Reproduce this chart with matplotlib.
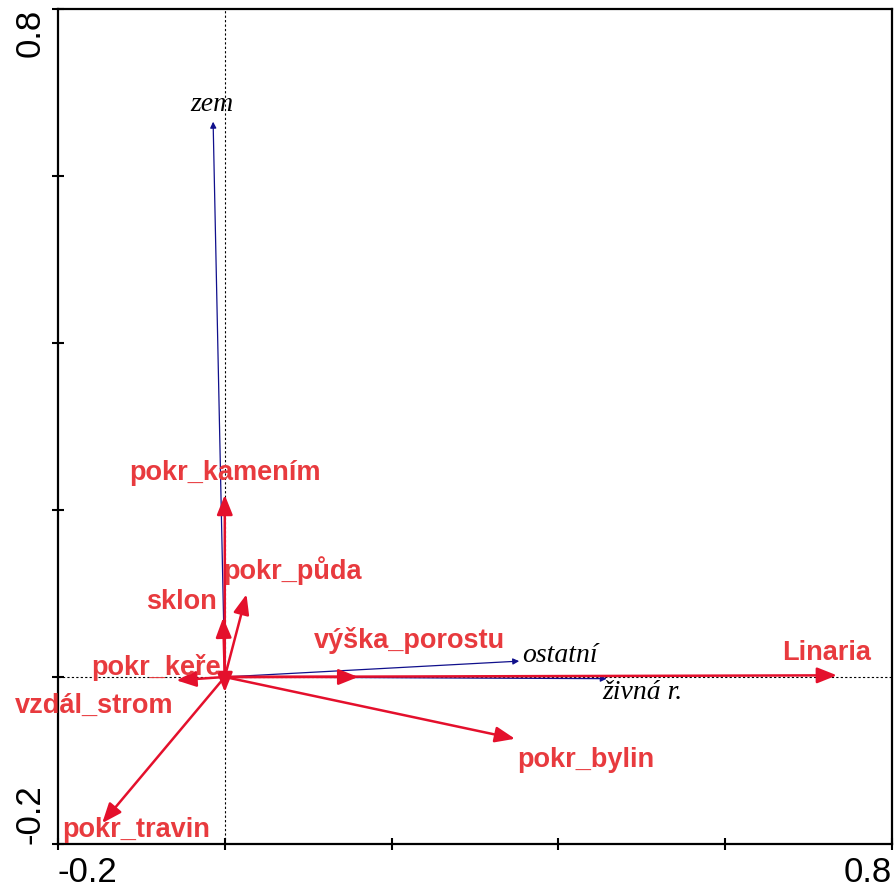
import matplotlib.pyplot as plt

# environmental variables (red arrows)
env_names = ['pokr_kamením', 'pokr_půda', 'sklon', 'výška_porostu', 'pokr_keře',
             'vzdál_strom', 'pokr_travin', 'pokr_bylin', 'Linaria']
env_x = [0.000, 0.026, -0.002, 0.160, -0.058, 0.000, -0.147, 0.348, 0.734]
env_y = [0.218, 0.099, 0.071, 0.000, -0.004, -0.018, -0.175, -0.074, 0.002]

# species (blue arrows)
sp_names = ['zem', 'ostatní', 'živná r.']
sp_x = [-0.014, 0.353, 0.458]
sp_y = [0.665, 0.019, -0.002]

# label anchor points
env_lx = [0.000, 0.081, -0.052, 0.221, -0.082, -0.157, -0.106, 0.433, 0.722]
env_ly = [0.244, 0.128, 0.090, 0.044, 0.011, -0.035, -0.183, -0.099, 0.029]
sp_lx = [-0.015, 0.402, 0.501]
sp_ly = [0.686, 0.026, -0.019]

red = '#e4102c'
red_txt = '#e83a3e'
blue = '#10108c'

fig = plt.figure(figsize=(8.95, 8.90), dpi=100)
ax = fig.add_axes([0.0648, 0.0517, 0.9318, 0.9382])
ax.set_xlim(-0.2, 0.8)
ax.set_ylim(-0.2, 0.8)

ax.axhline(0, color='black', lw=0.8, ls=(0, (2, 2)), zorder=1)
ax.axvline(0, color='black', lw=0.8, ls=(0, (2, 2)), zorder=1)

for x, y in zip(sp_x, sp_y):
    ax.annotate('', xy=(x, y), xytext=(0, 0),
                arrowprops=dict(arrowstyle='-|>', color=blue, lw=0.9,
                                mutation_scale=9, shrinkA=0, shrinkB=0), zorder=2)

for x, y in zip(env_x, env_y):
    ax.annotate('', xy=(x, y), xytext=(0, 0),
                arrowprops=dict(arrowstyle='-|>,head_length=0.8,head_width=0.32',
                                color=red, lw=1.8, mutation_scale=15,
                                shrinkA=0, shrinkB=0), zorder=3)

for name, x, y in zip(env_names, env_lx, env_ly):
    ax.text(x, y, name, color=red_txt, fontsize=19.5, fontweight='bold',
            family='Liberation Sans', ha='center', va='center', zorder=4)

for name, x, y in zip(sp_names, sp_lx, sp_ly):
    ax.text(x, y, name, color='black', fontsize=20, style='italic',
            family='Liberation Serif', ha='center', va='center', zorder=4)

ticks = [-0.2, 0.0, 0.2, 0.4, 0.6, 0.8]
labels = ['-0.2', '', '', '', '', '0.8']
ax.set_xticks(ticks, labels)
ax.set_yticks(ticks, labels)
ax.tick_params(direction='inout', length=8, width=1.5, labelsize=25)
ax.tick_params(axis='x', pad=5)
ax.tick_params(axis='y', pad=4)
for t in ax.get_xticklabels() + ax.get_yticklabels():
    t.set_family('Liberation Sans')
xl = ax.get_xticklabels()
xl[0].set_ha('left')
xl[-1].set_ha('right')
yl = ax.get_yticklabels()
for t in yl:
    t.set_rotation(90)
yl[0].set_va('bottom')
yl[-1].set_va('top')

for s in ax.spines.values():
    s.set_linewidth(1.6)

fig.savefig('out.png', dpi=100)
